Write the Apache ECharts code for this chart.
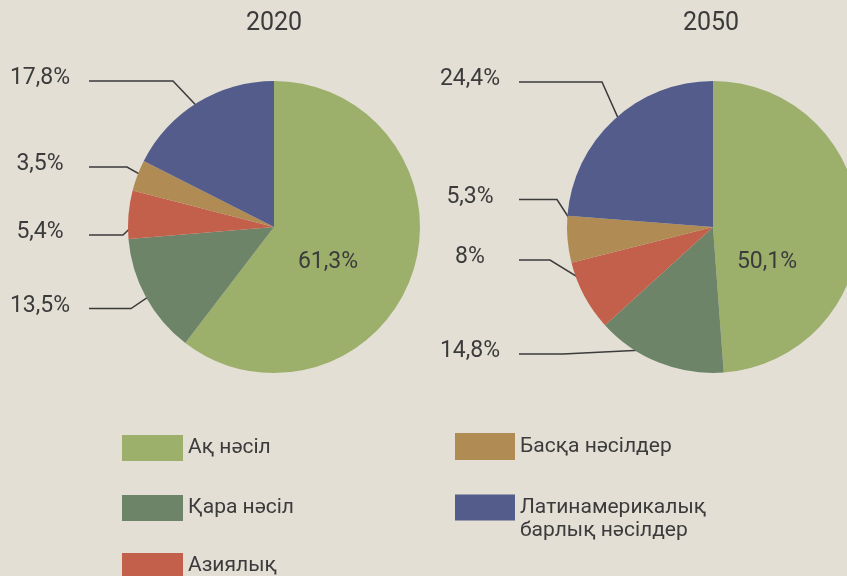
<!DOCTYPE html>
<html>
<head>
<meta charset="utf-8">
<script src="https://cdn.jsdelivr.net/npm/echarts@6/dist/echarts.min.js"></script>
<style>
html,body{margin:0;padding:0;background:#e3dfd5;}
#chart{width:847px;height:576px;}
</style>
</head>
<body>
<div id="chart"></div>
<script>
// ---- data ----
const categories = ['Ақ нәсіл', 'Қара нәсіл', 'Азиялық', 'Басқа нәсілдер', 'Латинамерикалық барлық нәсілдер'];
const years = ['2020', '2050'];
const values2020 = [61.3, 13.5, 5.4, 3.5, 17.8];
const values2050 = [50.1, 14.8, 8, 5.3, 24.4];

// ---- styles / layout ----
const colors = ['#9cb06b', '#6d8468', '#c2604b', '#b08b53', '#535c8b'];
const textColor = '#3b3b3b';
const FONT = 'Roboto';
const CX = [274, 713], CY = 227, R = 146;
const titleX = [274, 711];
const labelCX = [40, 470];
const labelTextY = [[0, 306, 232.5, 164.5, 78.5], [0, 351.5, 257.5, 197, 79.5]];
const lineStartX = [89, 519];
const bendX = [[0, 131, 123, 127, 173], [0, 563, 550, 557, 602]];
const seriesVals = [values2020, values2050];
// legend slots: [left, top, itemWidth, itemHeight] per category
const legendSlots = [[122, 435, 61, 26], [122, 495, 61, 26], [122, 553, 61, 26], [455, 433, 60, 27], [455, 473, 60, 26]];

function fmt(v) { return String(v).replace('.', ',') + '%'; }
function midAngle(vals, i) {
  const total = vals.reduce((a, b) => a + b, 0);
  let acc = 0;
  for (let j = 0; j < i; j++) acc += vals[j];
  return (acc + vals[i] / 2) / total * Math.PI * 2;
}

function makeSeries(s) {
  return {
    type: 'pie',
    name: years[s],
    center: [CX[s], CY],
    radius: R,
    startAngle: 90,
    clockwise: true,
    avoidLabelOverlap: false,
    silent: true,
    data: seriesVals[s].map((v, i) => ({
      name: categories[i],
      value: v,
      itemStyle: { color: colors[i] },
      labelLine: { show: i !== 0 }
    })),
    label: {
      show: true,
      position: 'outside',
      formatter: p => fmt(p.value),
      color: textColor,
      fontSize: 23,
      fontFamily: FONT,
      fontWeight: 400
    },
    labelLine: {
      show: true,
      smooth: false,
      lineStyle: { color: textColor, width: 1.5 }
    },
    labelLayout: function (p) {
      const i = p.dataIndex;
      if (i === 0) {
        return { x: CX[s] + 54, y: CY + 35, align: 'center', verticalAlign: 'middle' };
      }
      const a = midAngle(seriesVals[s], i);
      const d = 0.9 * R;
      const ix = CX[s] + d * Math.sin(a);
      const iy = CY - d * Math.cos(a);
      const ly = labelTextY[s][i] + 2.5;
      return {
        x: labelCX[s], y: labelTextY[s][i], align: 'center', verticalAlign: 'middle',
        labelLinePoints: [[lineStartX[s], ly], [bendX[s][i], ly], [ix, iy]]
      };
    }
  };
}

const legendText = { color: textColor, fontSize: 21, fontFamily: FONT, fontWeight: 400, lineHeight: 23 };
const chart = echarts.init(document.getElementById('chart'), null, { renderer: 'canvas' });
chart.setOption({
  backgroundColor: '#e3dfd5',
  animation: false,
  title: years.map((y, s) => ({
    text: y,
    left: titleX[s],
    top: 11,
    padding: 0,
    textAlign: 'center',
    textStyle: { color: textColor, fontSize: 25, fontFamily: FONT, fontWeight: 400 }
  })),
  legend: categories.map((c, i) => ({
    data: [c],
    orient: 'vertical',
    left: legendSlots[i][0], top: legendSlots[i][1], padding: 0,
    itemWidth: legendSlots[i][2], itemHeight: legendSlots[i][3],
    icon: 'rect', selectedMode: false,
    formatter: n => n.indexOf(' барлық') > 0 ? '\n' + n.replace(' барлық', '\nбарлық') : n,
    textStyle: legendText
  })),
  series: [makeSeries(0), makeSeries(1)]
});
</script>
</body>
</html>
